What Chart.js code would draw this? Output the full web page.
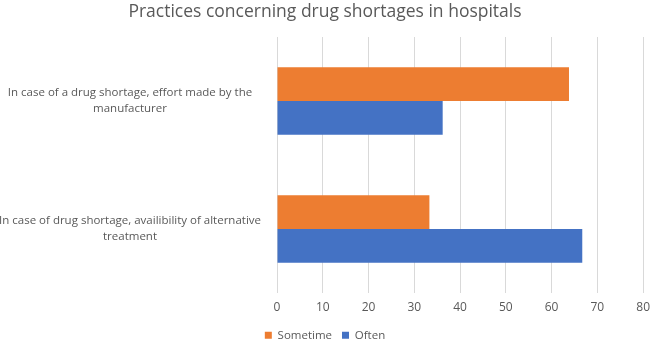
<!DOCTYPE html>
<html>
<head>
<meta charset="utf-8">
<script src="https://cdn.jsdelivr.net/npm/chart.js@4/dist/chart.umd.min.js"></script>
<style>
html,body{margin:0;padding:0;background:#fff;}
#wrap{width:650px;height:341px;}
</style>
</head>
<body>
<div id="wrap"><canvas id="c" width="650" height="341"></canvas></div>
<script>
const categories = [
  ["In case of a drug shortage, effort made by the", "manufacturer"],
  ["In case of drug shortage, availibility of alternative", "treatment"]
];
const sometimeValues = [63.8, 33.3];
const oftenValues = [36.2, 66.7];
const xTicks = [0, 10, 20, 30, 40, 50, 60, 70, 80];

const grey = '#595959';
new Chart(document.getElementById('c'), {
  type: 'bar',
  data: {
    labels: categories,
    datasets: [
      { label: 'Sometime', data: sometimeValues, backgroundColor: '#ED7D31', barPercentage: 1, categoryPercentage: 0.527 },
      { label: 'Often', data: oftenValues, backgroundColor: '#4472C4', barPercentage: 1, categoryPercentage: 0.527 }
    ]
  },
  options: {
    indexAxis: 'y',
    responsive: false,
    animation: false,
    layout: { padding: { left: 0, right: 0, top: 0, bottom: -10 } },
    scales: {
      x: {
        min: 0, max: 80,
        afterBuildTicks: (axis) => { axis.ticks = xTicks.map(v => ({ value: v })); },
        afterFit: (axis) => { axis.height = 26.6; },
        grid: { color: '#d9d9d9', lineWidth: 1, drawTicks: true, tickLength: 7, tickColor: 'rgba(0,0,0,0)' },
        border: { display: false },
        ticks: { color: grey, font: { family: 'Open Sans', size: 12 }, padding: 0 }
      },
      y: {
        grid: { display: false },
        border: { display: false },
        afterFit: (axis) => { axis.width = 277; },
        ticks: { color: grey, font: { family: 'Open Sans', size: 11.5, lineHeight: 1.4 }, crossAlign: 'center', padding: 8 }
      }
    },
    plugins: {
      title: {
        display: true,
        text: 'Practices concerning drug shortages in hospitals',
        color: grey,
        font: { family: 'Open Sans', size: 17.5, weight: 'normal' },
        padding: { top: 2, bottom: 14 }
      },
      legend: {
        position: 'bottom',
        labels: { color: grey, font: { family: 'Open Sans', size: 11.5 }, boxWidth: 7, boxHeight: 7, padding: 10 }
      },
      tooltip: { enabled: false }
    }
  }
});
</script>
</body>
</html>
